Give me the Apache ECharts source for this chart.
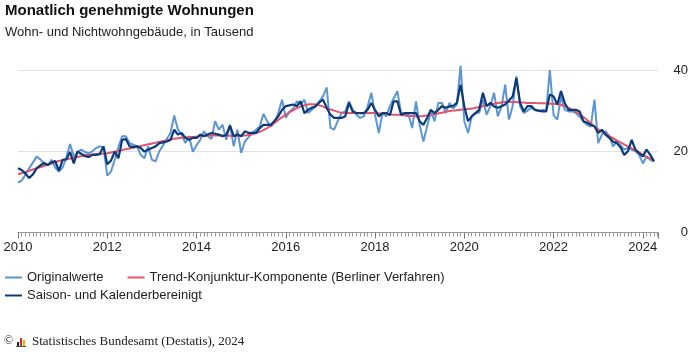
<!DOCTYPE html>
<html>
<head>
<meta charset="utf-8">
<script src="https://cdn.jsdelivr.net/npm/echarts@6/dist/echarts.min.js"></script>
<style>
html,body{margin:0;padding:0;background:#fff;}
#chart{width:700px;height:352px;}
</style>
</head>
<body>
<div id="chart"></div>
<script>
// Monthly data, January 2010 to April 2024 (thousands of dwellings)
const startYear = 2010;
const yTicks = [0, 20, 40];
const xTickYears = [2010, 2012, 2014, 2016, 2018, 2020, 2022, 2024];

const originalwerte = [
  12.3, 12.8, 14.2, 15.8, 17.2, 18.7, 18.0, 17.0, 16.5, 17.9, 16.0, 15.0,
  16.0, 18.5, 21.8, 18.7, 19.8, 20.4, 19.8, 19.5, 20.0, 20.8, 21.2, 21.0,
  14.0, 15.0, 17.9, 21.0, 23.7, 23.7, 22.0, 21.6, 21.2, 19.1, 18.3, 21.2,
  17.9, 17.5, 20.0, 21.5, 23.0, 24.5, 28.8, 25.3, 24.1, 22.0, 23.7, 19.9,
  21.5, 22.8, 24.9, 23.7, 23.0, 27.4, 25.3, 26.5, 22.8, 26.5, 21.2, 25.3,
  19.6, 22.4, 23.5, 24.5, 25.3, 26.1, 29.2, 27.4, 26.1, 27.0, 29.5, 32.7,
  28.2, 29.8, 30.5, 32.3, 31.5, 32.7, 29.4, 30.2, 31.0, 32.3, 33.5, 35.7,
  25.8, 25.3, 27.5, 29.4, 29.8, 32.3, 30.2, 29.0, 28.2, 28.6, 31.0, 34.4,
  29.0, 24.5, 29.4, 28.6, 31.1, 33.0, 34.8, 29.4, 29.2, 29.0, 25.7, 32.3,
  26.5, 22.4, 26.1, 29.8, 27.4, 31.9, 31.9, 29.4, 31.9, 30.5, 31.5, 41.0,
  27.4, 24.5, 28.6, 29.4, 29.5, 32.7, 29.0, 31.1, 34.4, 28.6, 31.0, 36.4,
  27.8, 31.1, 38.5, 31.1, 29.4, 30.0, 30.7, 30.2, 29.8, 30.2, 30.0, 40.0,
  28.9, 27.8, 33.5, 30.2, 29.8, 29.8, 29.4, 28.5, 27.4, 26.5, 26.1, 32.7,
  22.0, 24.1, 24.9, 23.7, 21.2, 22.4, 21.5, 20.4, 20.8, 20.4, 20.0, 19.1,
  17.0, 18.7, 17.9, 17.5
];

const trendKomponente = [
  14.4, 14.6, 14.9, 15.2, 15.5, 15.8, 16.1, 16.4, 16.7, 17.0, 17.3, 17.6,
  17.8, 18.0, 18.2, 18.4, 18.6, 18.8, 19.0, 19.1, 19.2, 19.3, 19.4, 19.4,
  19.5, 19.7, 19.9, 20.1, 20.3, 20.5, 20.7, 20.9, 21.1, 21.3, 21.5, 21.7,
  21.9, 22.1, 22.3, 22.5, 22.7, 22.9, 23.1, 23.2, 23.3, 23.4, 23.5, 23.5,
  23.6, 23.7, 23.8, 23.8, 23.9, 23.9, 23.9, 23.9, 23.9, 23.8, 23.8, 23.8,
  23.8, 23.9, 24.0, 24.2, 24.5, 24.8, 25.2, 25.7, 26.3, 27.0, 27.7, 28.4,
  29.0, 29.6, 30.1, 30.6, 31.0, 31.3, 31.5, 31.6, 31.5, 31.3, 31.0, 30.6,
  30.3, 30.0, 29.7, 29.5, 29.4, 29.4, 29.4, 29.4, 29.4, 29.4, 29.4, 29.4,
  29.4, 29.3, 29.3, 29.2, 29.1, 29.0, 29.0, 28.9, 28.8, 28.7, 28.7, 28.6,
  28.6, 28.7, 28.8, 28.9, 29.1, 29.3, 29.5, 29.7, 29.9, 30.0, 30.1, 30.2,
  30.3, 30.4, 30.5, 30.7, 30.9, 31.1, 31.3, 31.5, 31.7, 31.9, 32.0, 32.1,
  32.1, 32.1, 32.1, 32.0, 32.0, 31.9, 31.9, 31.9, 31.8, 31.8, 31.8, 31.7,
  31.7, 31.6, 31.4, 31.1, 30.7, 30.2, 29.7, 29.1, 28.4, 27.7, 26.9, 26.1,
  25.4, 24.8, 24.2, 23.7, 23.2, 22.7, 22.2, 21.7, 21.2, 20.7, 20.2, 19.7,
  19.1, 18.6, 18.2, 17.9
];

const saisonbereinigt = [
  15.8, 15.4, 14.5, 13.4, 14.3, 15.8, 16.5, 17.1, 16.6, 17.2, 17.6, 15.2,
  17.9, 18.0, 19.8, 17.0, 19.9, 19.4, 18.8, 18.6, 19.1, 19.1, 19.3, 21.2,
  16.8, 17.7, 19.9, 18.3, 22.8, 23.0, 21.2, 21.0, 21.2, 20.8, 19.9, 20.4,
  20.8, 21.2, 22.0, 22.2, 22.4, 22.8, 25.3, 24.1, 24.5, 23.3, 22.8, 23.3,
  23.3, 24.1, 23.7, 24.1, 24.5, 24.3, 24.1, 23.7, 24.0, 26.3, 23.7, 24.1,
  23.7, 24.9, 24.5, 24.5, 24.5, 25.7, 26.5, 26.5, 26.5, 27.5, 28.6, 30.2,
  31.1, 31.3, 31.5, 31.1, 32.3, 29.4, 30.2, 30.7, 31.1, 32.0, 32.7, 30.7,
  29.0, 28.2, 28.2, 28.2, 28.6, 31.9, 29.8, 29.4, 29.4, 29.4, 30.2, 31.9,
  30.2, 28.6, 29.4, 29.4, 28.9, 32.3, 32.3, 29.0, 29.4, 29.4, 29.4, 29.4,
  27.4, 26.5, 28.2, 30.2, 29.4, 30.2, 31.1, 30.7, 31.0, 31.2, 31.9, 36.4,
  31.1, 27.4, 28.6, 29.4, 30.2, 34.4, 31.1, 31.9, 31.0, 30.7, 31.1, 31.5,
  32.5, 33.5, 38.0, 31.9, 29.8, 31.1, 31.1, 30.2, 30.0, 29.8, 29.8, 34.0,
  33.5, 31.5, 34.8, 31.9, 30.2, 30.2, 30.2, 29.8, 27.4, 27.0, 26.5, 26.1,
  24.5, 25.3, 24.1, 23.3, 22.4, 22.0, 21.0, 19.1, 20.0, 22.8, 20.4, 19.5,
  18.7, 20.4, 19.1, 17.5
];

// month positions on the time scale (decimal years)
const toPairs = arr => arr.map((v, i) => [startYear + i / 12, v]);

const chart = echarts.init(document.getElementById('chart'), null, {renderer: 'canvas'});
const FONT = '"Liberation Sans", Arial, sans-serif';
const cLight = '#5B96D3', cRed = '#E0566E', cDark = '#0D3A76';

chart.setOption({
  animation: false,
  backgroundColor: '#fff',
  textStyle: {fontFamily: FONT},
  title: [
    {text: 'Monatlich genehmigte Wohnungen', left: 5, top: 3, padding: 0,
     textStyle: {fontSize: 15, fontWeight: 'bold', color: '#111', fontFamily: FONT}},
    {text: 'Wohn- und Nichtwohngebäude, in Tausend', left: 5, top: 26, padding: 0,
     textStyle: {fontSize: 13, fontWeight: 'normal', color: '#222', fontFamily: FONT}}
  ],
  legend: [
    {data: ['Originalwerte', 'Trend-Konjunktur-Komponente (Berliner Verfahren)'],
     left: 5, top: 271, padding: 0, itemGap: 24, itemWidth: 17, itemHeight: 2, icon: 'rect',
     textStyle: {fontSize: 13, color: '#222', fontFamily: FONT}},
    {data: ['Saison- und Kalenderbereinigt'],
     left: 5, top: 289, padding: 0, itemWidth: 17, itemHeight: 2, icon: 'rect',
     textStyle: {fontSize: 13, color: '#222', fontFamily: FONT}}
  ],
  grid: {left: 18, right: 42, top: 70, bottom: 119.5, containLabel: false},
  xAxis: {
    type: 'value', min: 2010, max: 2024.34, interval: 2,
    axisLine: {show: true, lineStyle: {color: '#999', width: 1}},
    axisTick: {show: true, length: 6, lineStyle: {color: '#777'}},
    minorTick: {show: true, splitNumber: 24, length: 4, lineStyle: {color: '#999'}},
    splitLine: {show: false},
    axisLabel: {fontSize: 13, color: '#222', margin: 8, fontFamily: FONT,
      formatter: v => (xTickYears.indexOf(Math.round(v)) >= 0 && Math.abs(v - Math.round(v)) < 1e-6) ? String(Math.round(v)) : ''}
  },
  yAxis: {
    type: 'value', position: 'right', min: yTicks[0], max: yTicks[yTicks.length - 1], interval: 20,
    axisLine: {show: false}, axisTick: {show: false},
    splitLine: {show: true, lineStyle: {color: '#e2e2e2', width: 1}},
    axisLabel: {fontSize: 13, color: '#222', align: 'right', margin: 30, fontFamily: FONT, padding: [2, 0, 0, 0]}
  },
  series: [
    {name: 'Originalwerte', type: 'line', data: toPairs(originalwerte), showSymbol: false, symbol: 'none',
     clip: false, lineStyle: {color: cLight, width: 2}, itemStyle: {color: cLight}, z: 2},
    {name: 'Trend-Konjunktur-Komponente (Berliner Verfahren)', type: 'line', data: toPairs(trendKomponente),
     showSymbol: false, symbol: 'none', smooth: true, clip: false,
     lineStyle: {color: cRed, width: 2}, itemStyle: {color: cRed}, z: 3},
    {name: 'Saison- und Kalenderbereinigt', type: 'line', data: toPairs(saisonbereinigt), showSymbol: false, symbol: 'none',
     clip: false, lineStyle: {color: cDark, width: 2.2}, itemStyle: {color: cDark}, z: 4}
  ],
  graphic: [
    {type: 'text', left: 4, top: 335, style: {text: '©', font: '12px "Liberation Serif", serif', fill: '#222'}},
    {type: 'rect', shape: {x: 17, y: 342, width: 2, height: 4}, style: {fill: '#222'}},
    {type: 'rect', shape: {x: 20, y: 338, width: 2, height: 8}, style: {fill: '#d9262b'}},
    {type: 'rect', shape: {x: 23, y: 340, width: 2, height: 6}, style: {fill: '#e8b400'}},
    {type: 'rect', shape: {x: 16, y: 346, width: 10, height: 1}, style: {fill: '#555'}},
    {type: 'text', left: 32, top: 335, style: {text: 'Statistisches Bundesamt (Destatis), 2024', font: '13px "Liberation Serif", serif', fill: '#222'}}
  ]
});
</script>
</body>
</html>
